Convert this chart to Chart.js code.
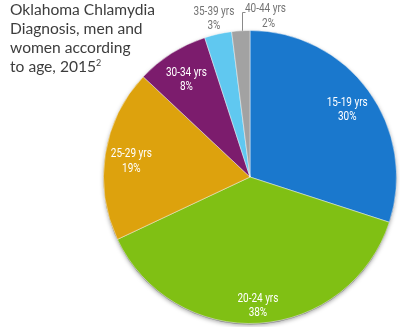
<!DOCTYPE html>
<html>
<head>
<meta charset="utf-8">
<script src="https://cdn.jsdelivr.net/npm/chart.js@4.4.1/dist/chart.umd.min.js"></script>
<style>
  html, body { margin: 0; padding: 0; background: #fff; }
  #wrap { position: relative; width: 400px; height: 327px; }
  #title {
    position: absolute; left: 10px; top: 0px;
    font-family: Lato, "Open Sans", sans-serif; font-size: 15.6px;
    line-height: 19px; color: #3d3d3d;
  }
  #title sup { font-size: 9px; line-height: 0; vertical-align: 6px; }
</style>
</head>
<body>
<div id="wrap">
  <canvas id="myChart" width="400" height="327"></canvas>
  <div id="title">Oklahoma Chlamydia<br>Diagnosis, men and<br>women according<br>to age, 2015<sup>2</sup></div>
</div>
<script>
// age groups and share of diagnoses (%)
var ageGroups = ['15-19 yrs', '20-24 yrs', '25-29 yrs', '30-34 yrs', '35-39 yrs', '40-44 yrs'];
var shares = [30, 38, 19, 8, 3, 2];

// slice colours: main tone and darker rim
var baseColors = ['#1a78cd', '#80c014', '#dda20d', '#7c1c6d', '#60c8f0', '#a2a2a2'];
var rimColors  = ['#0c5aa4', '#639c08', '#b88300', '#5c0f50', '#3aa8d8', '#7e7e7e'];

// where each label sits, as a fraction of the radius (0 = drawn with leader)
var labelPos = [0.82, 0.86, 0.82, 0.81, 1.13, 0];

function sliceFill(context){
    var chart = context.chart;
    var i = context.dataIndex;
    var arc = chart.getDatasetMeta(0).data[i];
    if(!arc || !arc.outerRadius) return baseColors[i];
    var g = chart.ctx.createRadialGradient(arc.x, arc.y - arc.outerRadius * 0.15, 0, arc.x, arc.y, arc.outerRadius);
    g.addColorStop(0, baseColors[i]);
    g.addColorStop(0.7, baseColors[i]);
    g.addColorStop(1, rimColors[i]);
    return g;
}

// narrow text: squeeze the glyphs horizontally
function narrowText(ctx, txt, x, y){
    var w = ctx.measureText(txt).width;
    ctx.fillText(txt, x, y, w * 0.8);
}

var shadowPlugin = {
    id: 'pieShadow',
    beforeDatasetsDraw: function(chart){
        var arc = chart.getDatasetMeta(0).data[0];
        var ctx = chart.ctx;
        ctx.save();
        ctx.beginPath();
        ctx.arc(arc.x, arc.y + 1, arc.outerRadius, 0, Math.PI * 2);
        ctx.shadowColor = 'rgba(0,0,0,0.35)';
        ctx.shadowBlur = 4;
        ctx.shadowOffsetY = 1;
        ctx.fillStyle = '#888';
        ctx.fill();
        ctx.restore();
    }
};

var labelPlugin = {
    id: 'sliceLabels',
    afterDatasetsDraw: function(chart){
        var ctx = chart.ctx;
        var meta = chart.getDatasetMeta(0);
        ctx.save();
        ctx.textAlign = 'center';
        ctx.textBaseline = 'middle';
        ctx.font = '12.5px Roboto, Lato, sans-serif';
        meta.data.forEach(function(arc, i){
            var mid = (arc.startAngle + arc.endAngle) / 2;
            var r = arc.outerRadius;
            var pct = shares[i] + '%';
            if(labelPos[i] > 0){
                var lx = arc.x + Math.cos(mid) * r * labelPos[i];
                var ly = arc.y + Math.sin(mid) * r * labelPos[i];
                ctx.fillStyle = labelPos[i] > 1 ? '#737373' : '#ffffff';
                narrowText(ctx, ageGroups[i], lx, ly - 4);
                narrowText(ctx, pct, lx, ly + 10.5);
            } else {
                // thin slice: leader line going up, text to its right
                var px = Math.round(arc.x + Math.cos(mid) * r) + 1.5;
                var py = arc.y + Math.sin(mid) * r;
                ctx.strokeStyle = '#8a8a8a';
                ctx.lineWidth = 1;
                ctx.beginPath();
                ctx.moveTo(px, py);
                ctx.lineTo(px, 12.5);
                ctx.lineTo(px + 3, 12.5);
                ctx.stroke();
                ctx.fillStyle = '#737373';
                narrowText(ctx, ageGroups[i], px + 23, 9);
                narrowText(ctx, pct, px + 26, 23.5);
            }
        });
        ctx.restore();
    }
};

var ctx = document.getElementById('myChart').getContext('2d');
var myChart = new Chart(ctx, {
    type: 'pie',
    data: {
        labels: ageGroups,
        datasets: [{
            data: shares,
            backgroundColor: sliceFill,
            borderColor: 'rgba(255,255,255,0.45)',
            borderWidth: 1
        }]
    },
    options: {
        responsive: false,
        animation: false,
        layout: { padding: { left: 103, right: 3, top: 30, bottom: 3 } },
        plugins: {
            legend: { display: false },
            tooltip: { enabled: false }
        }
    },
    plugins: [shadowPlugin, labelPlugin]
});
</script>
</body>
</html>
